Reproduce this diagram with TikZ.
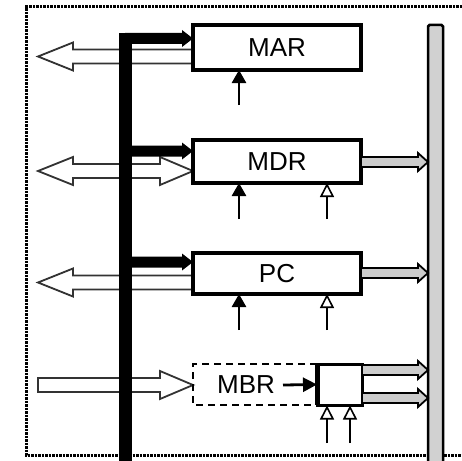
\documentclass[tikz,border=0pt]{standalone}
\usepackage{fontspec}
\setmainfont{Liberation Sans}
\usetikzlibrary{arrows.meta,calc}
\newcommand{\hollowleft}[3]{% tip x, shaft end x, y
  \draw[hollow] (#1,#3) -- (#1+35,#3-14) -- (#1+35,#3-7) -- (#2,#3-7) -- (#2,#3+7) -- (#1+35,#3+7) -- (#1+35,#3+14) -- cycle;}
\newcommand{\hollowright}[3]{% shaft start x, tip x, y
  \draw[hollow] (#1,#3-7) -- (#2-33,#3-7) -- (#2-33,#3-14) -- (#2,#3) -- (#2-33,#3+14) -- (#2-33,#3+7) -- (#1,#3+7) -- cycle;}
\newcommand{\grayout}[3]{% start x, tip x, y
  \draw[grayarrow] (#1,#3-5) -- (#2-10,#3-5) -- (#2-10,#3-9) -- (#2,#3) -- (#2-10,#3+9) -- (#2-10,#3+5) -- (#1,#3+5) -- cycle;}
\newcommand{\branch}[3]{% start x, tip x, y
  \fill[black] (#1,#3-5.5) -- (#2-11,#3-5.5) -- (#2-11,#3-8.5) -- (#2,#3) -- (#2-11,#3+8.5) -- (#2-11,#3+5.5) -- (#1,#3+5.5) -- cycle;}
\begin{document}
\begin{tikzpicture}[x=1pt,y=-1pt,
  box/.style={draw=black,line width=3.5pt,fill=white,minimum width=168pt,outer sep=0pt,inner sep=0pt,font=\fontsize{26}{30}\selectfont},
  hollow/.style={draw=black!80,line width=1.8pt,fill=white,line join=miter},
  grayarrow/.style={draw=black,line width=1.8pt,fill=black!20,line join=miter},
  ctlfill/.style={line width=2.6pt,-{Triangle[length=13pt,width=14pt]}},
  ctlopen/.style={line width=2.6pt,-{Triangle[length=14pt,width=14pt,fill=white,line width=1.6pt]}}]
\useasboundingbox (0,0) rectangle (462,460);
\clip (0,0) rectangle (462,460);
\fill[white] (0,0) rectangle (462,460);
% dotted frame
\draw[line width=3pt,dash pattern=on 2.5pt off 1pt] (462,7) -- (26,7) -- (26,455) -- (462,455);
% gray bus
\draw[line width=2.5pt,fill=black!18,rounded corners=1.5pt] (428,470) -- (428,25) -- (443,25) -- (443,470);
\node[inner sep=0pt,minimum width=15pt,minimum height=440pt] (gbus) at (435.5,245) {};
% hollow arrows (behind the black bus)
\hollowleft{38}{193}{56.5}
\draw[hollow] (38,171) -- (73,157) -- (73,164) -- (160,164) -- (160,157) -- (193,171) -- (160,185) -- (160,178) -- (73,178) -- (73,185) -- cycle;
\hollowleft{38}{193}{282.5}
\hollowright{38}{193}{385}
% black bus
\fill[black] (119,33) rectangle (132,470);
\node[inner sep=0pt,minimum width=13pt,minimum height=430pt] (bbus) at (125.5,250) {};
\branch{125}{193}{38.5}
\branch{125}{193}{151}
\branch{125}{193}{262}
% registers
\node[box,minimum height=45pt] (mar) at (277,47.5) {MAR};
\node[box,minimum height=43pt] (mdr) at (277,161.5) {MDR};
\node[box,minimum height=41pt] (pc) at (277,273.5) {PC};
% MBR
\draw[line width=2.5pt,dash pattern=on 7pt off 5pt] (317,364) -- (193,364) -- (193,405) -- (317,405);
\node[font=\fontsize{26}{30}\selectfont,inner sep=0pt] (mbr) at (246,385) {MBR};
\node[draw=black,line width=3pt,fill=white,minimum width=45pt,minimum height=41pt,inner sep=0pt,outer sep=0pt] (sel) at (339.5,384.5) {};
\draw[line width=5pt] (sel.north west) -- (sel.south west);
\draw[line width=2.8pt,-{Triangle[length=14pt,width=14pt]}] (283,385) -- (sel.west);
% outputs to gray bus
\grayout{361}{428}{162}
\grayout{361}{428}{273}
\grayout{362}{428}{370}
\grayout{362}{428}{398}
% control arrows
\coordinate (c1) at (239,105);
\draw[ctlfill] (c1) -- (239,70);
\coordinate (c2) at (239,219);
\draw[ctlfill] (c2) -- (239,183);
\coordinate (c3) at (327,219);
\draw[ctlopen] (c3) -- (327,183);
\coordinate (c4) at (239,330);
\draw[ctlfill] (c4) -- (239,294);
\coordinate (c5) at (327,330);
\draw[ctlopen] (c5) -- (327,294);
\coordinate (c6) at (327,443);
\draw[ctlopen] (c6) -- (327,405.5);
\coordinate (c7) at (350,443);
\draw[ctlopen] (c7) -- (350,405.5);
\end{tikzpicture}
\end{document}
